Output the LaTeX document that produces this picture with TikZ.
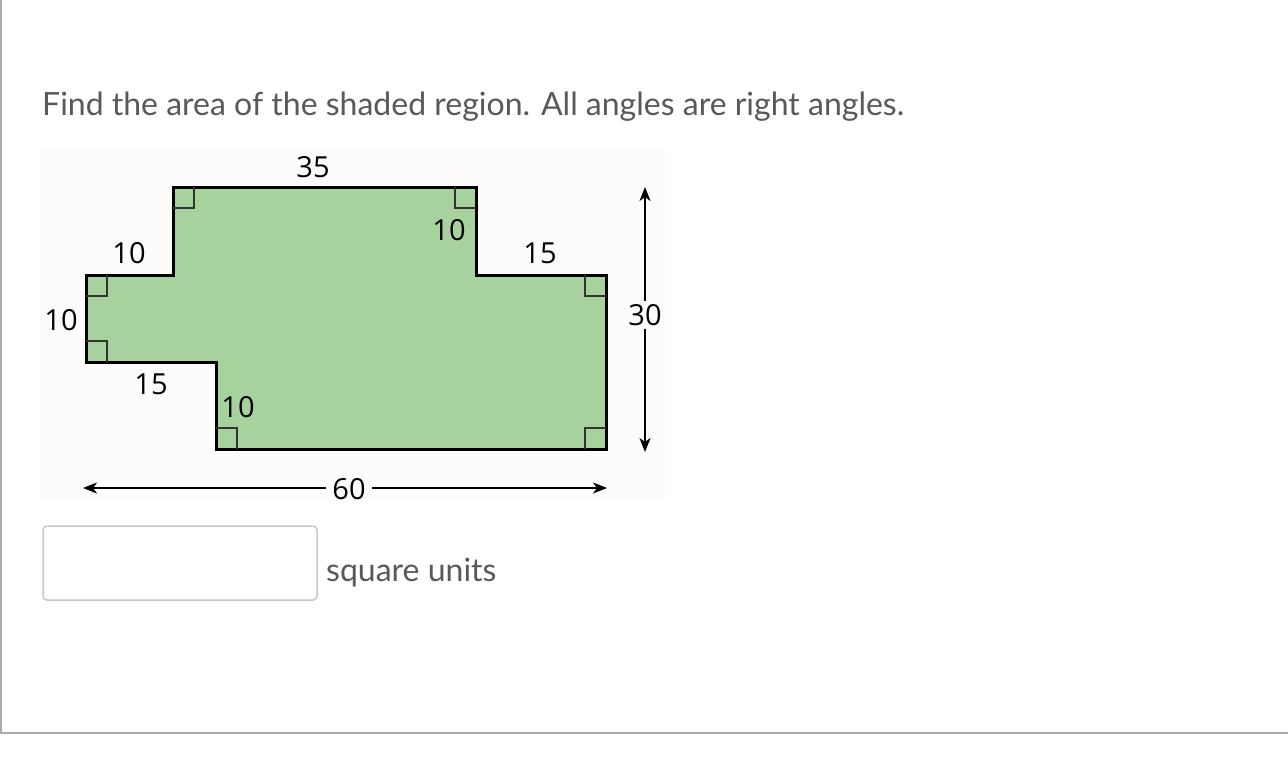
\documentclass[tikz,border=0pt]{standalone}
\usepackage{fontspec}
\setmainfont{Lato}
\newfontfamily\labfont{Open Sans}
\usetikzlibrary{arrows.meta}
\definecolor{qgray}{HTML}{595959}
\definecolor{framegray}{HTML}{AAAAAA}
\definecolor{shade}{HTML}{A7D29D}
\definecolor{imgbg}{HTML}{FDFCFA}
\definecolor{boxgray}{HTML}{C8C8C8}
\tikzset{
  qtext/.style={text=qgray, inner sep=0pt, font=\fontsize{32}{38}\selectfont},
  dimlab/.style={text=black, inner sep=0pt, font=\labfont\fontsize{29}{33}\selectfont},
  outline/.style={draw=black, line width=3pt, line join=miter, fill=shade},
  rmark/.style={draw=black!80, line width=1.2pt},
  dimarrow/.style={draw=black, line width=1.6pt, -{Stealth[length=14pt,width=11pt,inset=4pt]}},
  frame/.style={draw=framegray}
}
\begin{document}
\begin{tikzpicture}[x=1pt,y=-1pt]
\useasboundingbox (0,0) rectangle (1288,756);
\fill[white] (0,0) rectangle (1288,756);
% frame
\draw[frame, line width=1.5pt] (1,0) -- (1,733);
\draw[frame, line width=2.5pt] (0,733) -- (1288,733);
% question
\node[qtext, anchor=base west] (q) at (42,115) {Find the area of the shaded region. All angles are right angles.};
% image background
\fill[imgbg] (40,148) rectangle (665,500);
% shaded polygon
\draw[outline] (173,187) -- (476,187) -- (476,275) -- (606,275) -- (606,449)
  -- (216,449) -- (216,362) -- (86,362) -- (86,275) -- (173,275) -- cycle;
% right-angle marks
\draw[rmark] (173,208) -- (194,208) -- (194,187);
\draw[rmark] (455,187) -- (455,208) -- (476,208);
\draw[rmark] (86,296) -- (107,296) -- (107,275);
\draw[rmark] (86,341) -- (107,341) -- (107,362);
\draw[rmark] (585,275) -- (585,296) -- (606,296);
\draw[rmark] (585,449) -- (585,428) -- (606,428);
\draw[rmark] (216,428) -- (237,428) -- (237,449);
% labels
\node[dimlab] (l35) at (313,167) {35};
\node[dimlab] (l10a) at (129,253) {10};
\node[dimlab] (l10b) at (61,320) {10};
\node[dimlab] (l10c) at (449,230) {10};
\node[dimlab] (l15a) at (540,253) {15};
\node[dimlab, fill=imgbg, inner sep=3pt] (l30) at (645,315) {30};
\node[dimlab] (l15b) at (151,384) {15};
\node[dimlab] (l10d) at (238,407) {10};
\node[dimlab, inner sep=6pt] (l60) at (349,489) {60};
% dimension arrows
\coordinate (vtop) at (645,187);
\coordinate (vbot) at (645,452);
\coordinate (hleft) at (83,488);
\coordinate (hright) at (607,488);
\draw[dimarrow] (l30.north) -- (vtop);
\draw[dimarrow] (l30.south) -- (vbot);
\draw[dimarrow] (l60.west |- hleft) -- (hleft);
\draw[dimarrow] (l60.east |- hright) -- (hright);
% answer box
\draw[boxgray, line width=1.5pt, rounded corners=4pt] (43,526) rectangle (317,600) node[pos=0.5] (box) {};
\node[qtext, anchor=base west] (units) at (326,581) {square units};
\end{tikzpicture}
\end{document}
